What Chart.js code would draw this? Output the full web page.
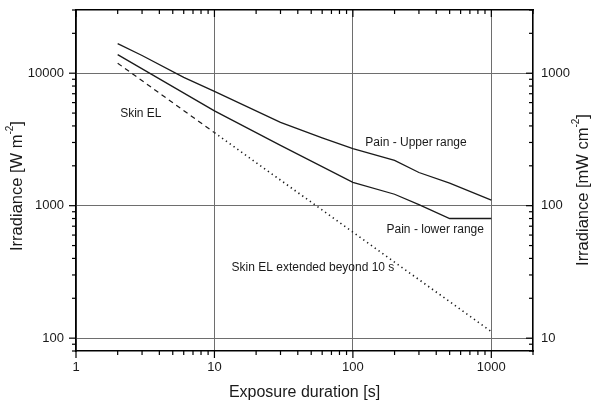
<!DOCTYPE html>
<html lang="en">
<head>
<meta charset="UTF-8">
<title>Irradiance vs exposure duration</title>
<script src="https://cdn.jsdelivr.net/npm/chart.js"></script>
<style>
  body { margin: 0; background: #fff; }
  #chart { display: block; }
</style>
</head>
<body>
<canvas id="chart" width="592" height="405"></canvas>
<script>
// exposure duration [s] against irradiance [W m-2]
const upperTimes = [2, 3, 6, 10, 30, 60, 100, 200, 300, 500, 1000];
const upperRange = [16700, 13600, 9300, 7300, 4250, 3250, 2700, 2200, 1780, 1480, 1100];
const lowerTimes = [2, 10, 30, 100, 200, 300, 500, 1000];
const lowerRange = [13800, 5200, 2850, 1500, 1220, 1020, 800, 800];
const skinTimes = [2, 10];
const skinEL = [11900, 3560];
const extTimes = [10, 1000];
const skinELext = [3560, 112];

// labelled decades on each axis
const xLabels = [1, 10, 100, 1000];
const yLabels = [100, 1000, 10000];
const y2Labels = [10, 100, 1000];

const ink = '#1a1a1a';
const family = '"Liberation Sans", Arial, Helvetica, sans-serif';

// 1..9 per decade between min and max
function tickList(min, max) {
  const out = [];
  for (let d = Math.pow(10, Math.floor(Math.log10(min))); d <= max; d *= 10) {
    for (let m = 1; m < 10; m++) {
      const v = m * d;
      if (v >= min && v <= max) out.push(v);
    }
  }
  return out;
}
function isDecade(v) {
  const l = Math.log10(v);
  return Math.abs(l - Math.round(l)) < 1e-9;
}

function logAxis(min, max, labels, position, size, padding, showGrid) {
  const horizontal = position === 'top' || position === 'bottom';
  return {
    type: 'logarithmic',
    position: position,
    min: min,
    max: max,
    afterBuildTicks: s => { s.ticks = tickList(min, max).map(v => ({ value: v })); },
    afterFit: s => {
      if (horizontal) s.height = size; else s.width = size;
      s.paddingTop = s.paddingBottom = s.paddingLeft = s.paddingRight = 0;
    },
    ticks: {
      display: labels.length > 0,
      autoSkip: false,
      maxRotation: 0,
      padding: padding,
      color: ink,
      font: { family: family, size: 13 },
      callback: v => labels.includes(v) ? String(v) : ''
    },
    grid: {
      display: showGrid,
      drawTicks: false,
      lineWidth: 1,
      color: c => (c.tick && isDecade(c.tick.value)) ? '#6e6e6e' : 'rgba(0,0,0,0)'
    },
    border: { display: true, color: '#000', width: 1.6 }
  };
}

const pts = (xs, ys) => xs.map((x, i) => ({ x: x, y: ys[i] }));

// minor / major tick marks on all four sides
const tickMarks = {
  id: 'tickMarks',
  afterDraw(chart) {
    const { ctx, chartArea: a, scales } = chart;
    ctx.save();
    ctx.strokeStyle = '#000';
    ctx.lineWidth = 1.2;
    const sides = [
      { s: scales.x, pos: a.bottom, dir: 1 },
      { s: scales.xTop, pos: a.top, dir: 1 },
      { s: scales.y, pos: a.left, dir: -1 },
      { s: scales.y2, pos: a.right, dir: -1 }
    ];
    sides.forEach(side => {
      const horiz = side.s.isHorizontal();
      side.s.ticks.forEach(t => {
        const p = side.s.getPixelForValue(t.value);
        const len = isDecade(t.value) ? 7 : 4;
        ctx.beginPath();
        if (horiz) {
          ctx.moveTo(p, side.pos);
          ctx.lineTo(p, side.pos + side.dir * len);
        } else {
          ctx.moveTo(side.pos, p);
          ctx.lineTo(side.pos + side.dir * len, p);
        }
        ctx.stroke();
      });
    });
    ctx.restore();
  }
};

// curve captions, anchored in data units
const notes = [
  { text: 'Skin EL', x: 2.94, y: 4950, align: 'center' },
  { text: 'Pain - Upper range', x: 123, y: 2990, align: 'left' },
  { text: 'Pain - lower range', x: 175, y: 659, align: 'left' },
  { text: 'Skin EL extended beyond 10 s', x: 13.3, y: 342, align: 'left' }
];

function drawSupTitle(ctx, main, sup, tail, size) {
  ctx.font = size + 'px ' + family;
  const w1 = ctx.measureText(main).width;
  const w3 = ctx.measureText(tail).width;
  ctx.font = Math.round(size * 0.62) + 'px ' + family;
  const w2 = ctx.measureText(sup).width;
  let x = -(w1 + w2 + w3) / 2;
  ctx.font = size + 'px ' + family;
  ctx.fillText(main, x, 0);
  x += w1;
  ctx.font = Math.round(size * 0.62) + 'px ' + family;
  ctx.fillText(sup, x, -size * 0.4);
  x += w2;
  ctx.font = size + 'px ' + family;
  ctx.fillText(tail, x, 0);
}

const labelsPlugin = {
  id: 'labelsPlugin',
  afterDraw(chart) {
    const { ctx, chartArea: a, scales } = chart;
    ctx.save();
    ctx.fillStyle = ink;
    ctx.textBaseline = 'middle';
    ctx.font = '12px ' + family;
    notes.forEach(n => {
      ctx.textAlign = n.align;
      ctx.fillText(n.text, scales.x.getPixelForValue(n.x), scales.y.getPixelForValue(n.y));
    });

    ctx.textAlign = 'center';
    ctx.font = '16px ' + family;
    ctx.fillText('Exposure duration [s]', (a.left + a.right) / 2, 393);

    ctx.textAlign = 'left';
    ctx.textBaseline = 'middle';
    ctx.save();
    ctx.translate(17, 186);
    ctx.rotate(-Math.PI / 2);
    drawSupTitle(ctx, 'Irradiance [W m', '-2', ']', 16.5);
    ctx.restore();

    ctx.save();
    ctx.translate(583, 190);
    ctx.rotate(-Math.PI / 2);
    drawSupTitle(ctx, 'Irradiance [mW cm', '-2', ']', 16.5);
    ctx.restore();
    ctx.restore();
  }
};

new Chart(document.getElementById('chart'), {
  type: 'line',
  data: {
    datasets: [
      { data: pts(upperTimes, upperRange), borderColor: ink, borderWidth: 1.3 },
      { data: pts(lowerTimes, lowerRange), borderColor: ink, borderWidth: 1.3 },
      { data: pts(skinTimes, skinEL), borderColor: ink, borderWidth: 1.2, borderDash: [5, 4] },
      { data: pts(extTimes, skinELext), borderColor: ink, borderWidth: 1.6, borderDash: [1.3, 3.4] }
    ]
  },
  options: {
    responsive: false,
    animation: false,
    devicePixelRatio: 1,
    layout: { padding: 0 },
    elements: { point: { radius: 0 }, line: { tension: 0, fill: false } },
    plugins: { legend: { display: false }, tooltip: { enabled: false } },
    scales: {
      x: logAxis(1, 2000, xLabels, 'bottom', 54, 9, true),
      xTop: logAxis(1, 2000, [], 'top', 10, 0, false),
      y: logAxis(80, 30000, yLabels, 'left', 76, 12, true),
      y2: logAxis(8, 3000, y2Labels, 'right', 59, 8, false)
    }
  },
  plugins: [tickMarks, labelsPlugin]
});
</script>
</body>
</html>
